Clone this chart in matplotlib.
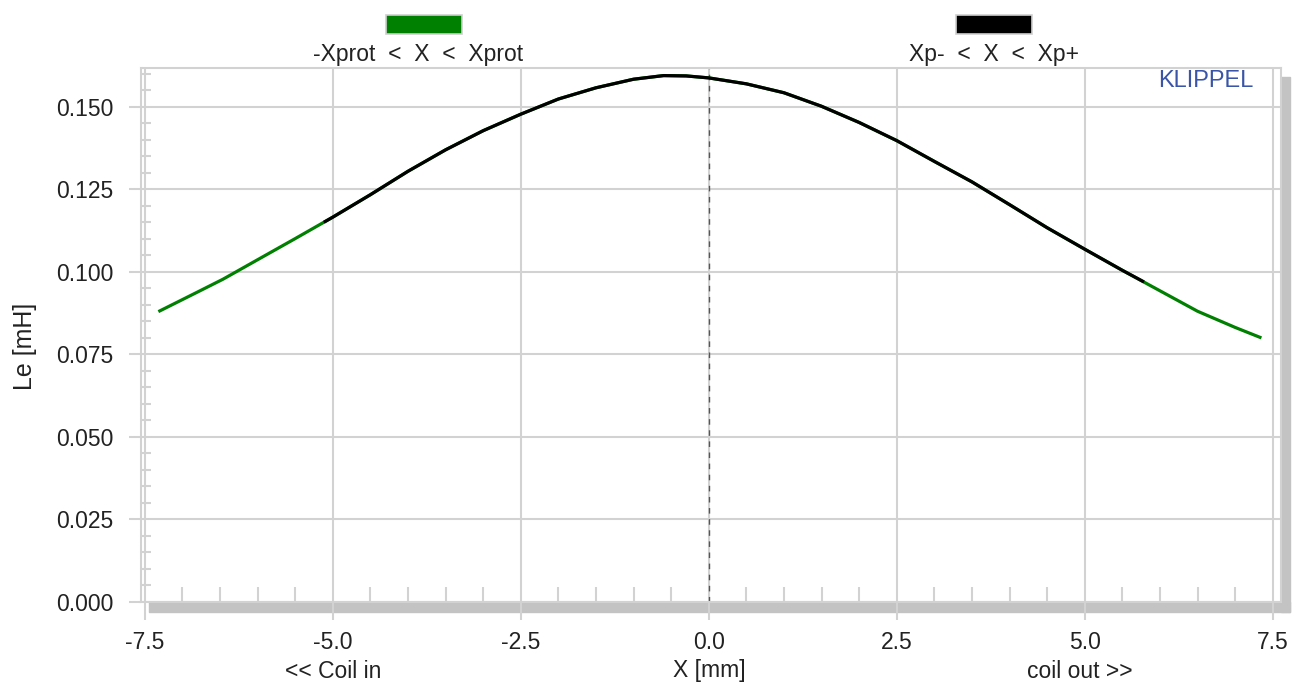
import numpy as np
import matplotlib
matplotlib.use('Agg')
import matplotlib.pyplot as plt
from matplotlib.patches import Rectangle
from matplotlib.ticker import MultipleLocator

# -Xprot < X < Xprot (green)
x_prot = [-7.3, -6.8, -6.46, -6.0, -5.5, -5.0, -4.5, -4.0, -3.5, -3.0, -2.5, -2.0, -1.5,
          -1.0, -0.6, -0.3, 0.0, 0.5, 1.0, 1.5, 2.0, 2.5, 3.0, 3.5, 4.0, 4.5, 5.0, 5.5,
          6.0, 6.5, 7.0, 7.33]
le_prot = [0.0882, 0.0939, 0.0978, 0.1037, 0.1101, 0.1166, 0.1234, 0.1305, 0.1370, 0.1428,
           0.1478, 0.1524, 0.1558, 0.1584, 0.1595, 0.1594, 0.1588, 0.1570, 0.1543, 0.1502,
           0.1453, 0.1398, 0.1335, 0.1273, 0.1204, 0.1134, 0.1069, 0.1005, 0.0943, 0.0881,
           0.0832, 0.0802]

# Xp- < X < Xp+ (black)
x_p = [-5.1, -5.0, -4.5, -4.0, -3.5, -3.0, -2.5, -2.0, -1.5, -1.0, -0.6, -0.3, 0.0, 0.5,
       1.0, 1.5, 2.0, 2.5, 3.0, 3.5, 4.0, 4.5, 5.0, 5.5, 5.77]
le_p = [0.1153, 0.1166, 0.1234, 0.1305, 0.1370, 0.1428, 0.1478, 0.1524, 0.1558, 0.1584,
        0.1595, 0.1594, 0.1588, 0.1570, 0.1543, 0.1502, 0.1453, 0.1398, 0.1335, 0.1273,
        0.1204, 0.1134, 0.1069, 0.1005, 0.0972]

legend_labels = ['-Xprot  <  X  <  Xprot', 'Xp-  <  X  <  Xp+']
legend_colors = ['#008000', '#000000']

W, H = 1300, 685
plt.rcParams['font.family'] = ['Liberation Sans', 'DejaVu Sans']
txt_col = '#222222'
grid_col = '#d2d2d2'
fs = 16.5

fig = plt.figure(figsize=(W/100, H/100), dpi=100)
ax = fig.add_axes([141/W, 1-602/H, (1281-141)/W, (602-68)/H])

ax.plot(x_prot, le_prot, color=legend_colors[0], lw=2.3, zorder=3)
ax.plot(x_p, le_p, color=legend_colors[1], lw=2.3, zorder=4)
ax.axvline(0, color='#555555', lw=1, ls=(0, (4, 4)), zorder=2)

ax.set_xlim(-7.55, 7.61)
ax.set_ylim(0, 0.1618)
ax.xaxis.set_minor_locator(MultipleLocator(0.5))
ax.yaxis.set_minor_locator(MultipleLocator(0.005))
ax.set_xticks(np.arange(-7.5, 7.6, 2.5))
ax.set_xticklabels(['%.1f' % v for v in np.arange(-7.5, 7.6, 2.5)])
ax.set_yticks(np.arange(0, 0.151, 0.025))
ax.set_yticklabels(['%.3f' % v for v in np.arange(0, 0.151, 0.025)])

ax.grid(True, which='major', color=grid_col, lw=1.5)
for s in ax.spines.values():
    s.set_color(grid_col)
    s.set_linewidth(1.5)

ax.tick_params(axis='x', which='major', direction='out', length=13, width=1.5,
               color=grid_col, labelsize=fs, labelcolor=txt_col, pad=8)
ax.tick_params(axis='y', which='major', direction='out', length=8.6, width=1.5,
               color=grid_col, labelsize=fs, labelcolor=txt_col, pad=11.5)
ax.tick_params(axis='x', which='minor', direction='in', length=10.5, width=1.5, color=grid_col)
ax.tick_params(axis='y', which='minor', direction='in', length=7, width=1.5, color=grid_col)

fig.text(1254/W, 1-81/H, 'KLIPPEL', ha='right', va='center', color='#3a55a8', fontsize=17)

# shadow
fig.patches.append(Rectangle((149/W, 1-612/H), (1290-149)/W, 10/H, transform=fig.transFigure,
                             color='#c3c3c3', zorder=-1))
fig.patches.append(Rectangle((1281/W, 1-612/H), 9/W, (612-77)/H, transform=fig.transFigure,
                             color='#c3c3c3', zorder=-1))

# legend
for cx, tx, lab, col in zip([424, 994], [418, 994], legend_labels, legend_colors):
    fig.patches.append(Rectangle(((cx-38)/W, 1-34/H), 76/W, 19/H, transform=fig.transFigure,
                                 facecolor=col, edgecolor='#cfcfcf', lw=1.2))
    fig.text(tx/W, 1-54/H, lab, ha='center', va='center', fontsize=fs, color=txt_col)

fig.text(25/W, 1-346/H, 'Le [mH]', rotation=90, ha='center', va='center',
         fontsize=18, color=txt_col)
fig.text(333/W, 1-671/H, '<< Coil in', ha='center', va='center', fontsize=fs, color=txt_col)
fig.text(709/W, 1-671/H, 'X [mm]', ha='center', va='center', fontsize=fs, color=txt_col)
fig.text(1080/W, 1-671/H, 'coil out >>', ha='center', va='center', fontsize=fs, color=txt_col)

fig.savefig('out.png', dpi=100)
